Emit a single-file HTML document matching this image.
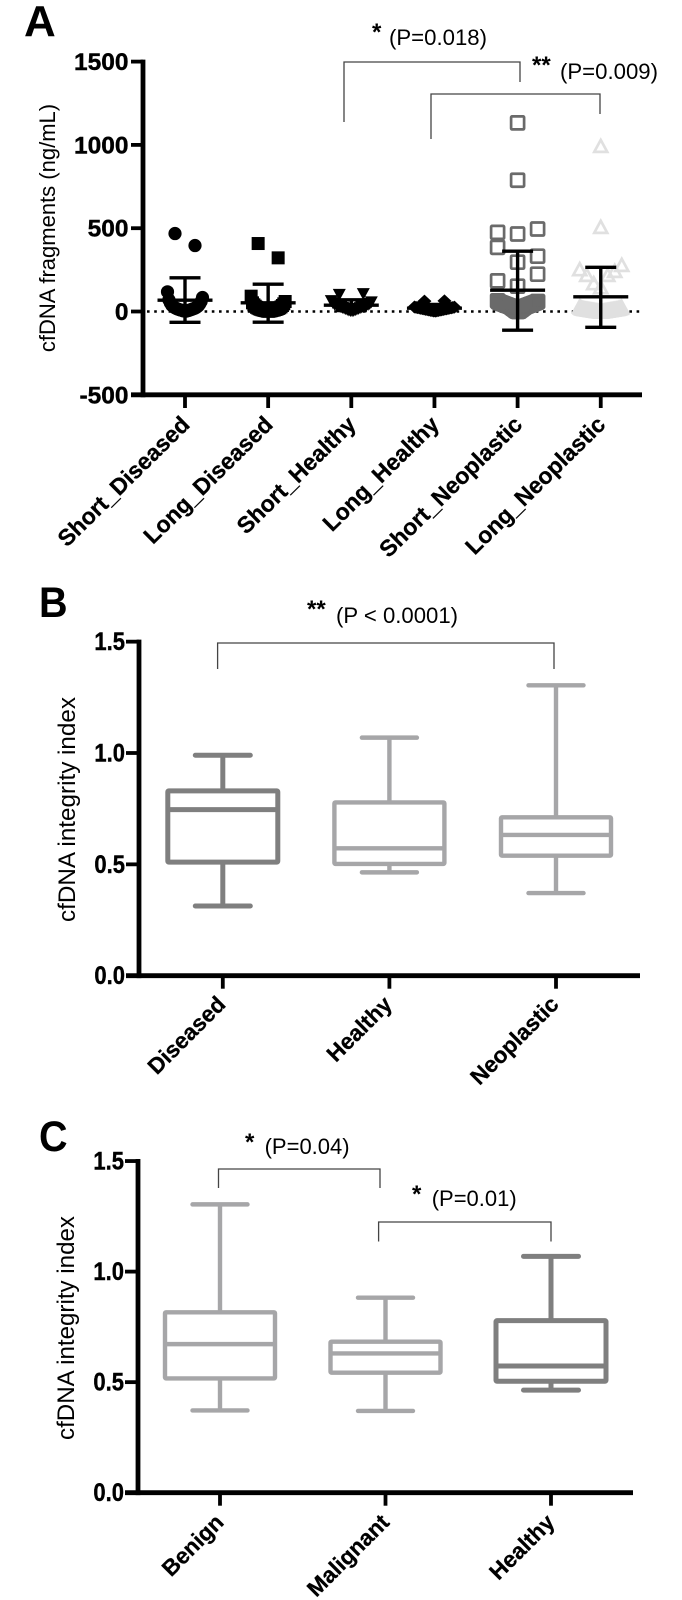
<!DOCTYPE html>
<html>
<head>
<meta charset="utf-8">
<title>cfDNA fragments and integrity index</title>
<style>
html,body{margin:0;padding:0;background:#fff;}
svg{display:block;font-family:"Liberation Sans",Arial,sans-serif;}
</style>
</head>
<body>
<svg id="figure" width="682" height="1600" viewBox="0 0 682 1600" xmlns="http://www.w3.org/2000/svg">
  <rect width="682" height="1600" fill="#fff"/>
</svg>
<script>
// ---------- Panel A data ----------
const scatterCategories = ["Short_Diseased","Long_Diseased","Short_Healthy","Long_Healthy","Short_Neoplastic","Long_Neoplastic"];
const scatterTicks = [-500,0,500,1000,1500];
const shortDiseased = [2,3,4,5,6,8,9,10,12,13,15,16,18,20,22,24,27,30,34,38,45,52,60,70,84,118,396,468];
const longDiseased = [1,2,3,4,5,6,7,8,9,10,12,13,14,16,18,20,22,25,28,32,36,40,46,52,60,92,322,408];
const shortHealthy = [2,3,4,6,8,10,12,14,16,18,20,22,24,26,28,30,32,34,36,38,40,42,45,50,55,62,100,104];
const longHealthy = [2,3,4,5,6,7,8,9,10,11,12,13,14,15,16,17,18,19,20,21,22,23,24,25,26,27,62,64];
const shortNeoplastic = [0,1,2,4,6,8,10,12,14,16,18,20,22,24,26,28,30,31,32,33,34,35,36,37,38,39,40,41,42,43,44,45,46,47,48,49,50,51,52,53,54,55,56,58,60,64,152,184,224,296,332,385,465,475,495,788,1132];
const longNeoplastic = [0,0,1,1,2,2,3,3,4,4,5,5,6,6,7,7,8,8,9,9,10,10,11,11,12,12,13,13,14,14,15,15,16,16,18,18,20,20,22,24,26,30,146,170,220,220,244,254,280,508,994];
const scatterMeans = [68,52,38,20,128,88];
const scatterUpper = [202,164,70,42,362,265];
const scatterLower = [-65,-64,6,-2,-112,-95];

// ---------- Panel B data ----------
const boxCategoriesB = ["Diseased","Healthy","Neoplastic"];
const boxTicks = [0,0.5,1,1.5];
const boxLowB = [0.313,0.464,0.371];
const boxQ1B = [0.51,0.502,0.539];
const boxMedianB = [0.746,0.572,0.632];
const boxQ3B = [0.83,0.778,0.711];
const boxHighB = [0.99,1.069,1.304];

// ---------- Panel C data ----------
const boxCategoriesC = ["Benign","Malignant","Healthy"];
const boxLowC = [0.372,0.37,0.464];
const boxQ1C = [0.517,0.543,0.504];
const boxMedianC = [0.672,0.63,0.573];
const boxQ3C = [0.816,0.683,0.778];
const boxHighC = [1.304,0.882,1.069];

const NS = "http://www.w3.org/2000/svg";
const svg = document.getElementById("figure");

function shape(tag, name, attrs, parent) {
  const el = document.createElementNS(NS, tag);
  
  
  for (const k in attrs) el.setAttribute(k, attrs[k]);
  (parent || svg).appendChild(el);
  return el;
}
function line(name, x1, y1, x2, y2, color, w, parent, cap) {
  return shape("line", name, {x1:x1, y1:y1, x2:x2, y2:y2, stroke:color, "stroke-width":w, "stroke-linecap":cap||"butt"}, parent);
}
function label(name, str, x, y, o) {
  const rot = o.rotate ? " rotate(" + o.rotate + ")" : "";
  const sc = " scale(" + (o.sx||1) + "," + (o.sy||1) + ")";
  const el = shape("text", name, {
    transform: "translate(" + x + "," + y + ")" + rot + sc,
    "font-size": o.size,
    "font-weight": o.weight || "normal",
    "text-anchor": o.anchor || "start",
    fill: o.fill || "#000"
  });
  if (o.heavy) {
    el.setAttribute("stroke", "#000");
    el.setAttribute("stroke-width", o.heavy);
  }
  el.textContent = str;
  return el;
}
function bracket(name, xl, xr, top, bl, br) {
  shape("path", name, {d:"M"+xl+" "+bl+"V"+top+"H"+xr+"V"+br, fill:"none", stroke:"#444", "stroke-width":1.3});
}
function sigText(name, stars, sx, sy, pval, px, py, pw, size) {
  label(name + "-stars", stars, sx, sy, {size:size||24, weight:"bold"});
  const t = label(name + "-value", pval, px, py, {size:size||22});
  t.setAttribute("textLength", pw);
  t.setAttribute("lengthAdjust", "spacingAndGlyphs");
}

// ---------- Panel A scales ----------
const ax = {left:143, right:642, x0:185, step:83.15, y0:311.5, perUnit:83.3/500};
function scatterX(i){ return ax.x0 + i*ax.step; }
function scatterY(v){ return ax.y0 - v*ax.perUnit; }

// Swarm layout: values are grouped in bins and placed centre-outwards in ascending order.
const swarmBins = [170,160,80,50,145,145];
const swarmWidths = [35,34,40,40,40,42];
const swarmGaps = [20,20,24,20,22,22];
function swarmOffsets(vals, binW, width, gap) {
  const bins = {};
  vals.forEach(v => { const b = Math.floor(v/binW); (bins[b] = bins[b] || []).push(v); });
  const out = [];
  Object.keys(bins).forEach(k => {
    const arr = bins[k].slice().sort((a,b)=>a-b);
    const n = arr.length;
    const s = n > 1 ? Math.min(gap, width/(n-1)) : 0;
    const firstDir = (+k % 2 === 0) ? 1 : -1;
    arr.forEach((v,j) => {
      let off;
      if (n % 2 === 1) {
        const m = Math.ceil(j/2);
        off = j === 0 ? 0 : m*s*((j%2===1) ? firstDir : -firstDir);
      } else {
        const m = Math.floor(j/2) + 0.5;
        off = m*s*((j%2===0) ? firstDir : -firstDir);
      }
      out.push({v:v, off:off});
    });
  });
  return out;
}
function marker(kind, cx, cy, g) {
  if (kind === 0) {
    shape("circle", "short-diseased-point", {cx:cx, cy:cy, r:6.6, fill:"#000"}, g);
  } else if (kind === 1) {
    shape("rect", "long-diseased-point", {x:cx-6.5, y:cy-6.5, width:13, height:13, fill:"#000"}, g);
  } else if (kind === 2) {
    shape("polygon", "short-healthy-point", {points:[[cx-6.5,cy-6],[cx+6.5,cy-6],[cx,cy+6]].join(" "), fill:"#000"}, g);
  } else if (kind === 3) {
    shape("polygon", "long-healthy-point", {points:[[cx-7,cy],[cx,cy-6.5],[cx+7,cy],[cx,cy+6.5]].join(" "), fill:"#000"}, g);
  } else if (kind === 4) {
    shape("rect", "short-neoplastic-point", {x:cx-6.5, y:cy-6.5, width:13, height:13, rx:1, fill:"none", stroke:"#6a6a6a", "stroke-width":2.7}, g);
  } else {
    shape("polygon", "long-neoplastic-point", {points:[[cx-6.5,cy+6],[cx+6.5,cy+6],[cx,cy-6]].join(" "), fill:"none", stroke:"#e0e0e0", "stroke-width":2.7}, g);
  }
}

// ---------- Panel A ----------
label("panel-a-label", "A", 24, 36, {size:44, weight:"bold"});
label("panel-a-y-title", "cfDNA fragments (ng/mL)", 55, 228, {size:22, rotate:-90, anchor:"middle"});
shape("line", "zero-reference-line", {x1:147, y1:ax.y0, x2:640, y2:ax.y0, stroke:"#000", "stroke-width":2.6, "stroke-dasharray":"2.6 4.6"});

const scatterSeries = [shortDiseased,longDiseased,shortHealthy,longHealthy,shortNeoplastic,longNeoplastic];
scatterSeries.forEach((vals,i) => {
  const g = shape("g", "series-" + scatterCategories[i].toLowerCase().replace("_","-"), {});
  swarmOffsets(vals, swarmBins[i], swarmWidths[i], swarmGaps[i]).forEach(p => {
    marker(i, scatterX(i) + p.off, scatterY(p.v), g);
  });
  const cx = scatterX(i);
  line("mean-bar", cx-27.5, scatterY(scatterMeans[i]), cx+27.5, scatterY(scatterMeans[i]), "#000", 3.4, g);
  line("error-bar", cx, scatterY(scatterUpper[i]), cx, scatterY(scatterLower[i]), "#000", 3.4, g);
  line("error-cap-upper", cx-15.5, scatterY(scatterUpper[i]), cx+15.5, scatterY(scatterUpper[i]), "#000", 3.4, g);
  line("error-cap-lower", cx-15.5, scatterY(scatterLower[i]), cx+15.5, scatterY(scatterLower[i]), "#000", 3.4, g);
});

line("panel-a-y-axis", ax.left, scatterY(1500)-2, ax.left, scatterY(-500)+2.4, "#000", 4.8);
line("panel-a-x-axis", 131, scatterY(-500), ax.right, scatterY(-500), "#000", 4.8);
scatterTicks.forEach(t => {
  line("panel-a-y-tick", 131, scatterY(t), ax.left, scatterY(t), "#000", 3.8);
  label("panel-a-y-tick-label", String(t), 128.5, scatterY(t)+8.5, {size:24.5, weight:"bold", anchor:"end", heavy:0.4});
});
scatterCategories.forEach((c,i) => {
  line("panel-a-x-tick", scatterX(i), scatterY(-500), scatterX(i), 408, "#000", 3.8);
  label("panel-a-x-tick-label", c, scatterX(i)+6, 426, {size:23, weight:"bold", anchor:"end", rotate:-44.5, heavy:0.3});
});
bracket("bracket-short-healthy-neoplastic", 344, 520, 62, 122, 82);
bracket("bracket-long-healthy-neoplastic", 431, 600, 94, 139, 114);
sigText("sig-short", "*", 372, 40, "(P=0.018)", 389, 45, 98);
sigText("sig-long", "**", 532, 73, "(P=0.009)", 560, 79, 98);

// ---------- Box panels ----------
function drawBoxPanel(p) {
  const yScale = v => p.y0 - v*p.perUnit;
  const xScale = i => p.x0 + i*p.step;
  label(p.key + "-label", p.letter, p.letterX, p.letterY, {size:43, weight:"bold", sx:.92});
  const yt = label(p.key + "-y-title", "cfDNA integrity index", p.titleX, p.titleY, {size:24});
  yt.setAttribute("transform", "translate(" + p.titleX + "," + p.titleY + ") rotate(-90)");
  yt.setAttribute("textLength", p.titleLen);
  yt.setAttribute("lengthAdjust", "spacingAndGlyphs");
  p.cats.forEach((c,i) => {
    const g = shape("g", "box-" + c.toLowerCase(), {});
    const cx = xScale(i), col = p.colors[i], w = p.widths[i];
    line("whisker", cx, yScale(p.high[i]), cx, yScale(p.q3[i]), col, w, g);
    line("whisker", cx, yScale(p.q1[i]), cx, yScale(p.low[i]), col, w, g);
    line("cap-high", cx-27.5, yScale(p.high[i]), cx+27.5, yScale(p.high[i]), col, w, g, "round");
    line("cap-low", cx-27.5, yScale(p.low[i]), cx+27.5, yScale(p.low[i]), col, w, g, "round");
    shape("rect", "interquartile-box", {x:cx-55, y:yScale(p.q3[i]), width:110, height:yScale(p.q1[i])-yScale(p.q3[i]), fill:"#fff", stroke:col, "stroke-width":w, rx:1}, g);
    line("median-line", cx-55, yScale(p.median[i]), cx+55, yScale(p.median[i]), col, w, g);
  });
  line(p.key + "-y-axis", p.axisX, yScale(1.5)-2, p.axisX, yScale(0)+2.4, "#000", 4.8);
  line(p.key + "-x-axis", p.tickLeft, yScale(0), p.axisEnd, yScale(0), "#000", 4.8);
  boxTicks.forEach(t => {
    line(p.key + "-y-tick", p.tickLeft, yScale(t), p.axisX, yScale(t), "#000", 3.8);
    label(p.key + "-y-tick-label", t.toFixed(1), p.tickLeft-1, yScale(t)+8.5, {size:25, weight:"bold", anchor:"end", sx:.88, heavy:0.4});
  });
  p.cats.forEach((c,i) => {
    line(p.key + "-x-tick", xScale(i), yScale(0), xScale(i), yScale(0)+13, "#000", 3.8);
    label(p.key + "-x-tick-label", c, xScale(i)+p.labelDx, yScale(0)+p.labelDy, {size:22.5, weight:"bold", anchor:"end", rotate:-45, heavy:0.3});
  });
}

drawBoxPanel({key:"panel-b", letter:"B", letterX:39, letterY:617, titleX:75, titleY:922, titleLen:225, labelDx:4, labelDy:30,
  axisX:139, axisEnd:640, tickLeft:126, x0:222.8, step:166.6, y0:975.7, perUnit:222.7,
  cats:boxCategoriesB, low:boxLowB, q1:boxQ1B, median:boxMedianB, q3:boxQ3B, high:boxHighB,
  colors:["#7f7f7f","#a6a6a8","#a6a6a8"], widths:[5,4.4,4.4]});
bracket("bracket-diseased-neoplastic", 217.6, 554, 643, 669, 669);
sigText("sig-diseased-neoplastic", "**", 307, 617, "(P < 0.0001)", 336, 623, 122);

drawBoxPanel({key:"panel-c", letter:"C", letterX:39, letterY:1151, titleX:74, titleY:1440, titleLen:224, labelDx:5, labelDy:31,
  axisX:138, axisEnd:633, tickLeft:125, x0:220, step:165.5, y0:1492.7, perUnit:221.1,
  cats:boxCategoriesC, low:boxLowC, q1:boxQ1C, median:boxMedianC, q3:boxQ3C, high:boxHighC,
  colors:["#a6a6a8","#a6a6a8","#7f7f7f"], widths:[4.4,4.4,5]});
bracket("bracket-benign-malignant", 218.5, 380, 1169, 1188, 1188);
bracket("bracket-malignant-healthy", 378.6, 551, 1222, 1241.5, 1241.5);
sigText("sig-benign-malignant", "*", 245, 1150, "(P=0.04)", 264.6, 1154, 85);
sigText("sig-malignant-healthy", "*", 412, 1202, "(P=0.01)", 431.7, 1206, 85);
</script>
</body>
</html>
